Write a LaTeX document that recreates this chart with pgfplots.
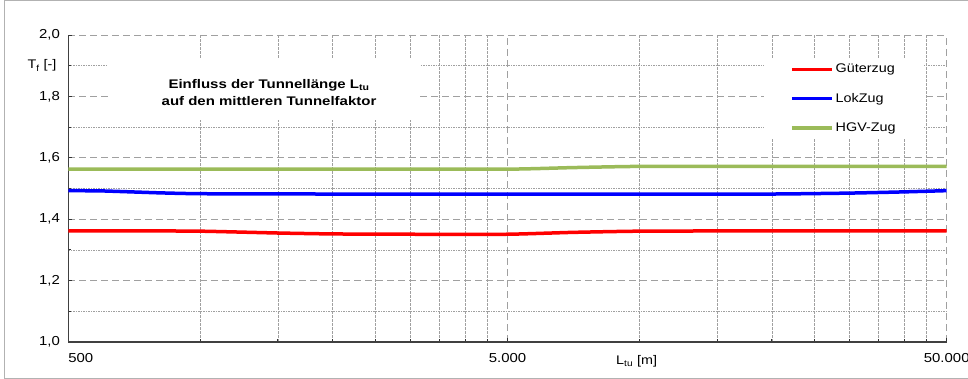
\documentclass[border=0pt]{standalone}
\usepackage{pgfplots}
\pgfplotsset{compat=1.18}
\usepackage{fontspec}
\setmainfont{Liberation Sans}[FakeStretch=1.15]
\newfontfamily\titlefont{Liberation Sans}[FakeStretch=1.2]
\definecolor{cred}{RGB}{255,0,0}
\definecolor{cblue}{RGB}{0,0,255}
\definecolor{cgreen}{RGB}{155,187,89}
\definecolor{gridc}{RGB}{160,160,160}
\begin{document}
\fontsize{12.5bp}{15bp}\selectfont
\begin{tikzpicture}
\useasboundingbox (0,0) rectangle (968bp,379bp);
\draw[gray!60, line width=1bp] (4bp,0.5bp) -- (4bp,378.5bp) -- (967.5bp,378.5bp);
\draw[gray!60, line width=1bp] (4bp,0.5bp) -- (967.5bp,0.5bp);
\begin{axis}[
  at={(68.3bp,37bp)}, anchor=south west,
  scale only axis, width=878.4bp, height=307bp,
  clip mode=individual,
  xmode=log, xmin=500, xmax=50000, ymin=1, ymax=2,
  axis x line=bottom, axis y line=left,
  axis line style={-, black!75, line width=1.3bp},
  xtick={500,5000,50000}, xticklabels={\makebox[0pt][l]{500},5.000,50.000},
  minor xtick={1000,1500,2000,2500,3000,3500,4000,4500,10000,15000,20000,25000,30000,35000,40000,45000},
  ytick={1,1.2,1.4,1.6,1.8,2},
  minor ytick={1.1,1.3,1.5,1.7,1.9},
  ticklabel style={font=\fontsize{13bp}{15bp}\selectfont},
  xticklabel style={yshift=-7bp},
  y tick label style={xshift=-4bp, /pgf/number format/.cd, fixed, fixed zerofill, precision=1, use comma, assume math mode=true},
  grid=both,
  major grid style={gridc, dash pattern=on 7bp off 4bp, line width=0.9bp},
  minor x grid style={gridc, dash pattern=on 2.5bp off 1.5bp, line width=0.6bp},
  minor y grid style={gridc, dash pattern=on 1.5bp off 1bp, line width=0.6bp},
  tick style={black!80, line width=0.9bp},
  major tick length=4bp, minor tick length=3bp,
  tick align=inside,
  legend style={at={(rel axis cs:0.792,0.922)}, anchor=north west, draw=none, fill=white,
    inner xsep=26bp, inner ysep=3bp, row sep=14.5bp,
    font=\fontsize{12.5bp}{14bp}\selectfont},
  legend cell align=left,
  legend image code/.code={\draw[#1, line width=3.5bp] (0bp,0bp) -- (40bp,0bp);},
]
\fill[white] (rel axis cs:0.045,0.723) rectangle (rel axis cs:0.400,0.922);
\node[align=center, font=\fontsize{12.5bp}{17bp}\selectfont\titlefont\bfseries] at (rel axis cs:0.2285,0.812)
  {Einfluss der Tunnellänge L\textsubscript{tu}\\auf den mittleren Tunnelfaktor};
\node[anchor=center] at (rel axis cs:-0.030,0.900) {T\textsubscript{f} [-]};
\node[anchor=north] at (rel axis cs:0.647,0) [yshift=-9bp] {L\textsubscript{tu} [m]};

\addplot[cred, line width=3.5bp, smooth, tension=0.3] coordinates {
 (500,1.362) (700,1.362) (1000,1.361) (1500,1.355) (2000,1.352) (3000,1.351) (5000,1.351) (7000,1.357) (10000,1.361) (20000,1.362) (50000,1.362)};
\addlegendentry{Güterzug}
\addplot[cblue, line width=3.5bp, smooth, tension=0.3] coordinates {
 (500,1.493) (600,1.492) (800,1.486) (1000,1.483) (2000,1.482) (5000,1.482) (10000,1.482) (20000,1.482) (30000,1.485) (40000,1.489) (50000,1.493)};
\addlegendentry{LokZug}
\addplot[cgreen, line width=3.5bp, smooth, tension=0.3] coordinates {
 (500,1.563) (2000,1.563) (5000,1.563) (7000,1.568) (10000,1.572) (20000,1.572) (50000,1.572)};
\addlegendentry{HGV-Zug}
\end{axis}
\end{tikzpicture}
\end{document}
